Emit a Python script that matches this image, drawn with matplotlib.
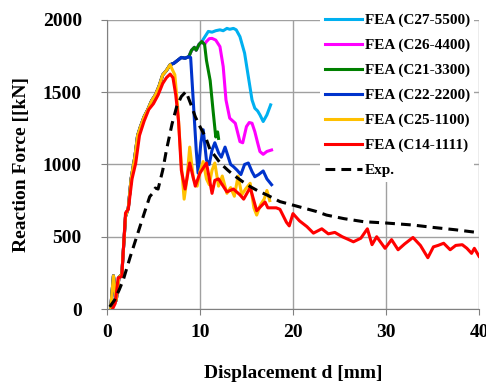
import matplotlib
matplotlib.use('Agg')
import matplotlib.pyplot as plt

# shared rising branch (all FEA curves overlap here)
rise_x = [0.4, 0.7, 1.0, 1.3, 1.6, 2.0, 2.3, 2.6, 3.0, 3.3, 3.6, 4.0, 4.4, 4.8, 5.2, 5.6, 6.0, 6.4, 6.8, 7.2, 7.6, 8.0, 8.4, 8.8]
rise_y = [0, 230, 60, 220, 240, 640, 700, 900, 1050, 1200, 1260, 1330, 1380, 1440, 1480, 1540, 1620, 1650, 1690, 1700, 1720, 1740, 1735, 1745]

# upper branch shared by C21, C26, C27
upper_x = [9.1, 9.4, 9.6, 9.9, 10.2]
upper_y = [1790, 1810, 1790, 1830, 1850]

c27_x = [10.5, 10.9, 11.3, 11.7, 12.15, 12.5, 12.9, 13.2, 13.6, 13.9, 14.3, 14.8, 15.2, 15.6, 15.9, 16.2, 16.45, 16.8, 17.2, 17.6]
c27_y = [1880, 1920, 1915, 1925, 1931, 1925, 1941, 1935, 1941, 1931, 1884, 1770, 1608, 1446, 1389, 1370, 1343, 1297, 1343, 1412]

c26_x = [10.5, 10.7, 11.0, 11.3, 11.7, 12.15, 12.5, 12.8, 13.2, 13.8, 14.3, 14.6, 15.0, 15.3, 15.6, 15.9, 16.2, 16.45, 16.8, 17.2, 17.7]
c26_y = [1830, 1850, 1870, 1872, 1860, 1815, 1677, 1446, 1320, 1285, 1158, 1150, 1262, 1290, 1285, 1227, 1150, 1089, 1070, 1090, 1100]

c21_x = [10.5, 10.7, 11.1, 11.4, 11.7, 11.9, 12.0]
c21_y = [1830, 1720, 1580, 1380, 1190, 1225, 1180]

c22_x = [9.0, 9.3, 9.6, 9.8, 10.1, 10.35, 10.7, 11.0, 11.3, 11.6, 12.0, 12.3, 12.7, 13.0, 13.3, 13.6, 14.0, 14.4, 14.8, 15.2, 15.6, 15.9, 16.3, 16.8, 17.2, 17.7]
c22_y = [1740, 1420, 1100, 940, 1150, 1240, 1030, 1000, 1100, 1150, 1080, 1050, 1120, 1060, 1000, 985, 960, 930, 1000, 1010, 950, 915, 930, 955, 900, 860]

c25_x = [7.0, 7.3, 7.6, 8.0, 8.3, 8.6, 8.9, 9.3, 9.7, 10.0, 10.35, 10.7, 11.0, 11.3, 11.6, 12.0, 12.4, 12.9, 13.3, 13.7, 14.1, 14.5, 14.9, 15.4, 15.8, 16.1, 16.5, 16.9, 17.2, 17.5]
c25_y = [1660, 1620, 1400, 1000, 760, 900, 1120, 900, 850, 950, 1020, 900, 860, 960, 1010, 850, 920, 800, 840, 780, 920, 790, 830, 870, 700, 650, 720, 760, 820, 750]

c14_x = [0.6, 0.9, 1.2, 1.6, 2.0, 2.3, 2.7, 3.1, 3.5, 4.0, 4.5, 5.0, 5.5, 6.0, 6.4, 6.8, 7.1, 7.4, 7.7, 8.0,
         8.4, 8.9, 9.5, 10.0, 10.7, 11.3, 11.6, 12.0, 12.9, 13.6, 14.3, 14.7, 15.4, 16.1, 17.0, 17.3, 18.2, 18.6, 19.3, 19.6,
         20.0, 20.7, 21.5, 22.2, 23.1, 23.8, 24.5, 25.3, 26.0, 26.5, 27.3, 28.0, 28.5, 29.0, 29.9, 30.6, 31.3, 32.0, 32.9, 33.7,
         34.5, 35.1, 35.6, 36.2, 36.9, 37.5, 38.2, 38.7, 39.2, 39.5, 40.0]
c14_y = [0, 40, 215, 225, 665, 690, 900, 1010, 1200, 1300, 1380, 1420, 1480, 1560, 1600, 1625, 1600, 1480, 1300, 960,
         830, 1010, 850, 940, 1010, 800, 890, 900, 810, 830, 790, 760, 840, 680, 740, 700, 700, 690, 600, 575,
         660, 610, 570, 525, 555, 520, 530, 500, 480, 465, 490, 555, 445, 500, 420, 480, 410, 450, 495, 440,
         355, 430, 440, 455, 410, 440, 445, 420, 385, 420, 365]

exp_x = [0.3, 0.8, 1.3, 1.75, 2.5, 3.2, 4.0, 4.6, 4.9, 5.2, 5.5, 6.0, 6.4, 7.0, 7.5, 8.0, 8.5, 9.0, 9.5, 10.0,
         10.6, 11.1, 11.6, 12.2, 13.0, 13.6, 14.5, 15.4, 16.3, 17.2, 18.6, 19.3, 20.5, 22.5, 23.6, 25.5, 27.6, 30.0, 32.9, 35.0,
         37.5, 40.0]
exp_y = [15, 60, 130, 200, 360, 500, 660, 777, 800, 837, 830, 960, 1100, 1280, 1400, 1470, 1504, 1420, 1330, 1262,
         1190, 1100, 1060, 1008, 960, 927, 885, 847, 815, 789, 743, 731, 710, 675, 650, 625, 604, 595, 581, 565,
         548, 528]

plt.rcParams['font.family'] = ['Liberation Serif', 'DejaVu Serif']
plt.rcParams['font.weight'] = 'bold'

fig = plt.figure(figsize=(4.86, 3.82), dpi=100)
ax = fig.add_axes([0.220, 0.191, 0.7656, 0.757])

lw = 2.2
ax.plot(rise_x + upper_x + c27_x, rise_y + upper_y + c27_y, color='#00B0F0', lw=lw, label='FEA (C27-5500)')
ax.plot(rise_x + upper_x + c26_x, rise_y + upper_y + c26_y, color='#FF00FF', lw=lw, label='FEA (C26-4400)')
ax.plot(rise_x + upper_x + c21_x, rise_y + upper_y + c21_y, color='#008000', lw=lw, label='FEA (C21-3300)')
ax.plot(rise_x + c22_x, rise_y + c22_y, color='#0033CC', lw=lw, label='FEA (C22-2200)')
ax.plot(rise_x[:19] + c25_x, rise_y[:19] + c25_y, color='#FFC000', lw=lw, label='FEA (C25-1100)')
ax.plot(c14_x, c14_y, color='#FF0000', lw=lw, label='FEA (C14-1111)')
ax.plot(exp_x, exp_y, color='black', lw=2.2, ls=(0, (3.2, 2)), label='Exp.')

ax.set_xlim(0, 40)
ax.set_ylim(0, 2000)
ax.set_xticks([0, 10, 20, 30, 40])
ax.set_yticks([0, 500, 1000, 1500, 2000])
ax.grid(True, color='#A0A0A0', lw=1.0)
ax.set_axisbelow(True)
for s in ['top', 'right']:
    ax.spines[s].set_visible(False)
for s in ['left', 'bottom']:
    ax.spines[s].set_color('#808080')
ax.tick_params(colors='#808080', labelcolor='black', length=4, labelsize=14)
ax.tick_params(axis='x', pad=7)
ax.tick_params(axis='y', pad=14)
for lab in ax.get_xticklabels() + ax.get_yticklabels():
    lab.set_fontweight('bold')

ax.set_xlabel('Displacement d [mm]', fontsize=14, fontweight='bold', labelpad=17)
ax.set_ylabel('Reaction Force [[kN]', fontsize=14, fontweight='bold', labelpad=9)

leg = ax.legend(loc='upper right', bbox_to_anchor=(1.008, 1.065), fontsize=11, frameon=True,
                handlelength=2.4, handletextpad=0.2, labelspacing=0.73, borderpad=0.3)
leg.get_frame().set_edgecolor('none')
leg.get_frame().set_facecolor('white')
leg.get_frame().set_alpha(1.0)
for t in leg.get_texts():
    t.set_fontweight('bold')

fig.savefig('out.png', dpi=100)
